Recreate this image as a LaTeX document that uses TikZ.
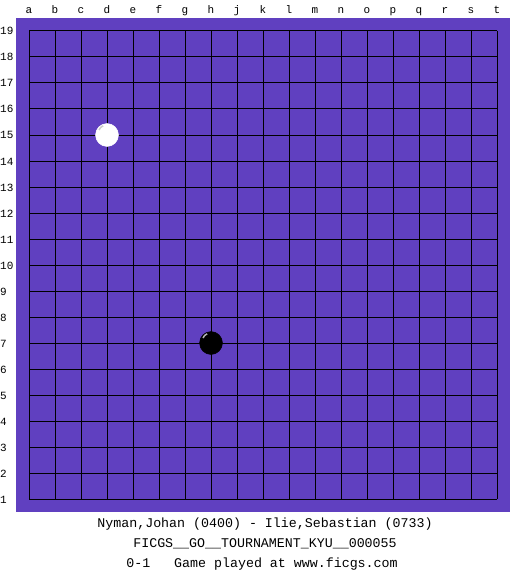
\documentclass[tikz,border=0pt]{standalone}
\usepackage{fontspec}
\setmonofont{Liberation Mono}
\definecolor{boardpurple}{RGB}{96,64,192}
\begin{document}
\begin{tikzpicture}[x=1pt, y=-1pt, font=\ttfamily\fontsize{11}{11}\selectfont]
			\useasboundingbox (0,0) rectangle (525,575);
			%Board
			\fill[boardpurple] (16,18) rectangle (510,512);
			%Grid
			\foreach \i in {0,...,18} {
				\draw[line width=1pt, black] (29+26*\i,31) -- (29+26*\i,499);
				\draw[line width=1pt, black] (29,31+26*\i) -- (497,31+26*\i);
			}
			%Coordinates
			\foreach \c [count=\i from 0] in {a,b,c,d,e,f,g,h,j,k,l,m,n,o,p,q,r,s,t}
				\node[anchor=base, inner sep=0pt] (col\c) at (29+26*\i,14) {\c};
			\foreach \r in {1,...,19}
				\node[anchor=base west, inner sep=0pt] (row\r) at (0,503-26*\r+26) {\r};
			%Stones
			\draw[fill=black, draw=black] (211,343) circle (11.5);
			\draw[line width=1.5pt, gray!60!white] (203,338) arc (200:250:7);
			\draw[fill=white, draw=white] (107,135) circle (11.5);
			\draw[line width=1.5pt, gray!40!white] (99,130) arc (200:250:7);
			%Game info
			\node[font=\ttfamily\fontsize{13.3}{14}\selectfont, inner sep=0pt] (players) at (265,524) {Nyman,Johan (0400) - Ilie,Sebastian (0733)};
			\node[font=\ttfamily\fontsize{13.3}{14}\selectfont, inner sep=0pt] (event) at (265,544) {FICGS\_\_GO\_\_TOURNAMENT\_KYU\_\_000055};
			\node[font=\ttfamily\fontsize{13.3}{14}\selectfont, inner sep=0pt] (result) at (262,564) {0-1\ \ \ Game played at www.ficgs.com};
\end{tikzpicture}
\end{document}
